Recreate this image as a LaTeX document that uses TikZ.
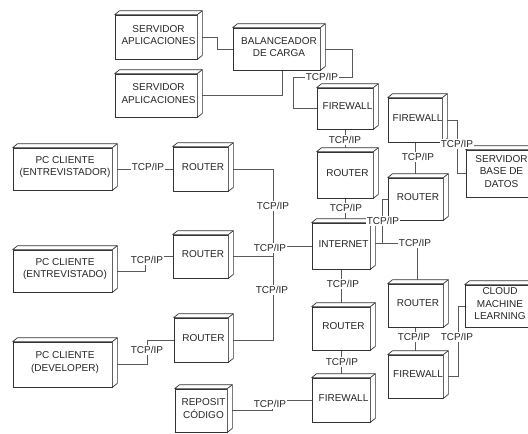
\documentclass[tikz,border=0pt]{standalone}
\usepackage{fontspec}
\setmainfont{Liberation Sans}
\usetikzlibrary{fit,calc}
\pgfdeclarelayer{bg}
\pgfsetlayers{bg,main}
\tikzset{
 ubox/.style={draw=black!80, fill=white, inner sep=0pt, line width=0.7pt},
 uface/.style={draw=black!80, fill=white, line width=0.7pt, line join=round},
 utext/.style={font=\fontsize{10}{12.5}\selectfont, align=center, text=black!85, inner sep=0pt},
 conn/.style={draw=black!65, line width=0.7pt},
 lbl/.style={font=\fontsize{10}{12}\selectfont, fill=white, inner sep=1pt, text=black!85},
}
\newcommand\udbox[6]{%
  \coordinate (#1-a) at (#2,#3);
  \coordinate (#1-b) at (#4,#5);
  \node[ubox, fit=(#1-a)(#1-b)] (#1) {};
  \filldraw[uface] (#1.north west) -- ++(5,-4) -- ($(#1.north east)+(5,-4)$) -- ($(#1.south east)+(5,-4)$) -- (#1.south east) -- (#1.north east) -- cycle;
  \draw[uface] (#1.north east) -- ++(5,-4);
  \node[utext] (#1-t) at ($(#1.center)+(2.5,-2)$) {#6};
}
\begin{document}
\begin{tikzpicture}[x=1pt,y=-1pt]
\useasboundingbox (0,0) rectangle (528,434);
\udbox{srvA}{115}{15}{197}{59}{SERVIDOR\\APLICACIONES}
\udbox{srvB}{115}{74}{197}{117}{SERVIDOR\\APLICACIONES}
\udbox{bal}{233}{28}{320}{70}{BALANCEADOR\\DE CARGA}
\udbox{fwA}{317}{88}{373}{129}{FIREWALL}
\udbox{rtA}{317}{152}{373}{198}{ROUTER}
\udbox{inet}{312}{223}{370}{269}{INTERNET}
\udbox{fwB}{388}{98}{442}{142}{FIREWALL}
\udbox{bd}{466}{150}{532}{197}{SERVIDOR\\BASE DE\\DATOS}
\udbox{rtB}{388}{178}{443}{220}{ROUTER}
\udbox{rtC}{388}{284}{443}{327}{ROUTER}
\udbox{cloud}{465}{285}{530}{327}{CLOUD\\MACHINE\\LEARNING}
\udbox{fwC}{388}{355}{443}{398}{FIREWALL}
\udbox{rtD}{312}{307}{370}{350}{ROUTER}
\udbox{fwD}{312}{378}{370}{422}{FIREWALL}
\udbox{repo}{175}{389}{227}{432}{REPOSIT\\CÓDIGO}
\udbox{pcA}{13}{148}{112}{190}{PC CLIENTE\\(ENTREVISTADOR)}
\udbox{rtE}{173}{147}{228}{191}{ROUTER}
\udbox{pcB}{13}{250}{112}{292}{PC CLIENTE\\(ENTREVISTADO)}
\udbox{rtF}{173}{235}{228}{278}{ROUTER}
\udbox{pcC}{13}{342}{112}{387}{PC CLIENTE\\(DEVELOPER)}
\udbox{rtG}{174}{318}{228}{362}{ROUTER}
\begin{pgfonlayer}{bg}
\fill[white] (0,0) rectangle (528,434);
\draw[conn] ([xshift=5pt]srvA.east) -- ++(15,0) |- (bal.west);
\draw[conn] ([xshift=5pt]srvB.east) -| ([xshift=5.5pt]bal.south);
\draw[conn] ([xshift=5pt]bal.east) -| (352,77) -- (293,77) |- (fwA.west);
\draw[conn] (fwA.south) -- ([yshift=4pt]rtA.north);
\draw[conn] (rtA.south) -- ($(inet.north -| rtA.south)+(0,-4)$);
\draw[conn] (rtB.west) -- ++(-5,0) |- ([xshift=5pt,yshift=3pt]inet.east);
\draw[conn] ([xshift=5pt,yshift=3pt]inet.east) -| ([xshift=2pt,yshift=4pt]rtC.north);
\draw[conn] (fwB.south) -- ($(rtB.north -| fwB.south)+(0,-4)$);
\draw[conn] ([xshift=5pt]fwB.east) -- ++(10,0) |- (bd.west);
\draw[conn] (rtC.south) -- ($(fwC.north -| rtC.south)+(0,-4)$);
\draw[conn] ([xshift=5pt]fwC.east) -- ++(10,0) |- (cloud.west);
\draw[conn] (inet.south) -- ($(rtD.north -| inet.south)+(0,-4)$);
\draw[conn] (rtD.south) -- ($(fwD.north -| rtD.south)+(0,-4)$);
\draw[conn] ([xshift=5pt]repo.east) -- ++(40,0) |- (fwD.west);
\draw[conn] ([xshift=5pt]pcA.east) -- (rtE.west);
\draw[conn] ([xshift=5pt]pcB.east) -- ++(28,0) |- (rtF.west);
\draw[conn] ([xshift=5pt]pcC.east) -- ++(30,0) |- (rtG.west);
\draw[conn] ([xshift=5pt]rtE.east) -- ++(40,0) |- (inet.west);
\draw[conn] ([xshift=5pt]rtF.east) -- ++(40,0) |- (inet.west);
\draw[conn] ([xshift=5pt]rtG.east) -- ++(40,0) |- (inet.west);
\end{pgfonlayer}
\node[lbl] (t1) at (322,77) {TCP/IP};
\node[lbl] (t2) at (345,140) {TCP/IP};
\node[lbl] (t3) at (346,208) {TCP/IP};
\node[lbl] (t4) at (418,157) {TCP/IP};
\node[lbl] (t5) at (457,144) {TCP/IP};
\node[lbl] (t6) at (383,221) {TCP/IP};
\node[lbl] (t7) at (415,243) {TCP/IP};
\node[lbl] (t8) at (414,337) {TCP/IP};
\node[lbl] (t9) at (457,337) {TCP/IP};
\node[lbl] (t10) at (343,284) {TCP/IP};
\node[lbl] (t11) at (342,362) {TCP/IP};
\node[lbl] (t12) at (270,404) {TCP/IP};
\node[lbl] (t13) at (148,167) {TCP/IP};
\node[lbl] (t14) at (147,260) {TCP/IP};
\node[lbl] (t15) at (147,350) {TCP/IP};
\node[lbl] (t16) at (273,206) {TCP/IP};
\node[lbl] (t17) at (270,248) {TCP/IP};
\node[lbl] (t18) at (272,290) {TCP/IP};
\end{tikzpicture}
\end{document}
